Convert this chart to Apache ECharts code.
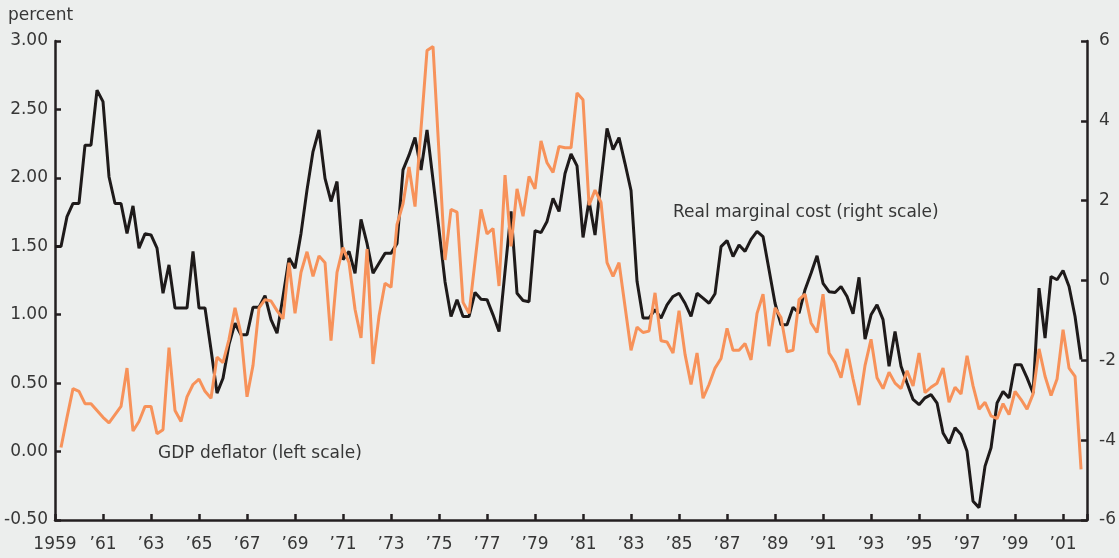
<!doctype html>
<html lang="en">
<head>
<meta charset="utf-8" />
<title>GDP deflator and real marginal cost</title>
<script src="https://cdn.jsdelivr.net/npm/echarts@6/dist/echarts.min.js"></script>
<style>
  html, body { margin: 0; padding: 0; background: #eceeed; }
  #chart { width: 1119px; height: 558px; }
</style>
</head>
<body>
<div id="chart"></div>
<script>
// quarterly, 1959Q1 .. 2001Q4 (172 quarters)
const startYear = 1959;
const endYear = 2002;

// Real marginal cost, right scale (percent)
const realMarginalCost = [
  0.85, 0.85, 1.6, 1.93, 1.93, 3.39, 3.39, 4.77, 4.48, 2.6,
  1.93, 1.93, 1.18, 1.87, 0.81, 1.17, 1.14, 0.81, -0.32, 0.39,
  -0.69, -0.69, -0.69, 0.73, -0.69, -0.69, -1.73, -2.82, -2.45, -1.6,
  -1.07, -1.36, -1.36, -0.67, -0.67, -0.38, -0.98, -1.32, -0.4, 0.56,
  0.31, 1.18, 2.27, 3.23, 3.77, 2.56, 1.98, 2.48, 0.52, 0.73,
  0.18, 1.53, 0.93, 0.18, 0.43, 0.68, 0.68, 0.93, 2.77, 3.14,
  3.58, 2.77, 3.77, 2.52, 1.27, -0.03, -0.9, -0.48, -0.9, -0.9,
  -0.3, -0.47, -0.48, -0.86, -1.28, 0.23, 1.73, -0.32, -0.5, -0.53,
  1.25, 1.2, 1.48, 2.06, 1.73, 2.68, 3.17, 2.87, 1.08, 2.0,
  1.14, 2.5, 3.81, 3.28, 3.58, 2.93, 2.25, -0.02, -0.94, -0.94,
  -0.73, -0.94, -0.61, -0.4, -0.32, -0.57, -0.9, -0.32, -0.44, -0.57,
  -0.33, 0.85, 1.0, 0.6, 0.89, 0.73, 1.03, 1.23, 1.1, 0.27,
  -0.57, -1.11, -1.11, -0.67, -0.82, -0.23, 0.18, 0.62, -0.07, -0.28,
  -0.3, -0.15, -0.4, -0.83, 0.08, -1.47, -0.86, -0.61, -0.98, -2.15,
  -1.28, -2.15, -2.57, -2.98, -3.11, -2.94, -2.86, -3.07, -3.82, -4.08,
  -3.69, -3.86, -4.28, -5.53, -5.69, -4.65, -4.19, -3.07, -2.78, -2.94,
  -2.11, -2.11, -2.44, -2.82, -0.19, -1.44, 0.1, 0.02, 0.25, -0.15,
  -0.9, -1.98
];

// GDP deflator, left scale (percent); no value for 1959Q1
const gdpDeflator = [
  null, 0.03, 0.25, 0.46, 0.44, 0.35, 0.35, 0.30, 0.25, 0.21,
  0.27, 0.33, 0.61, 0.15, 0.22, 0.33, 0.33, 0.13, 0.16, 0.76,
  0.30, 0.22, 0.40, 0.49, 0.53, 0.44, 0.39, 0.69, 0.65, 0.82,
  1.05, 0.86, 0.40, 0.63, 1.05, 1.11, 1.10, 1.03, 0.97, 1.38,
  1.01, 1.31, 1.46, 1.28, 1.43, 1.38, 0.81, 1.31, 1.49, 1.38,
  1.04, 0.83, 1.48, 0.64, 0.99, 1.23, 1.20, 1.66, 1.81, 2.08,
  1.79, 2.36, 2.93, 2.96, 2.18, 1.40, 1.77, 1.75, 1.09, 1.01,
  1.39, 1.77, 1.59, 1.63, 1.21, 2.02, 1.50, 1.92, 1.72, 2.01,
  1.92, 2.27, 2.11, 2.04, 2.23, 2.22, 2.22, 2.62, 2.57, 1.80,
  1.91, 1.82, 1.38, 1.28, 1.38, 1.06, 0.74, 0.91, 0.87, 0.88,
  1.16, 0.81, 0.80, 0.72, 1.03, 0.71, 0.49, 0.72, 0.39, 0.49,
  0.61, 0.68, 0.90, 0.74, 0.74, 0.79, 0.67, 1.01, 1.15, 0.77,
  1.05, 0.98, 0.73, 0.74, 1.11, 1.15, 0.94, 0.87, 1.15, 0.72,
  0.65, 0.54, 0.75, 0.53, 0.34, 0.63, 0.82, 0.54, 0.46, 0.58,
  0.50, 0.46, 0.59, 0.48, 0.72, 0.43, 0.47, 0.50, 0.61, 0.36,
  0.47, 0.42, 0.70, 0.48, 0.31, 0.36, 0.26, 0.24, 0.35, 0.27,
  0.44, 0.38, 0.31, 0.42, 0.75, 0.55, 0.41, 0.53, 0.89, 0.61,
  0.55, -0.13
];

const leftTicks = [-0.5, 0, 0.5, 1, 1.5, 2, 2.5, 3];
const rightTicks = [-6, -4, -2, 0, 2, 4, 6];

const ink = '#231f20';
const textColor = '#363636';
const font = 'DejaVu Sans';

// x is years since 1959, so the ticks start at 0
const toPairs = arr => arr.map((v, i) => [i / 4, v]);

const chart = echarts.init(document.getElementById('chart'));
chart.setOption({
  backgroundColor: '#eceeed',
  animation: false,
  grid: { left: 55, right: 31, top: 41, bottom: 38 },
  xAxis: {
    type: 'value',
    min: 0,
    max: endYear - startYear,
    interval: 2,
    axisLine: { show: true, onZero: false, lineStyle: { color: ink, width: 2.5 } },
    axisTick: { show: true, inside: true, length: 6, lineStyle: { color: ink, width: 2.5 } },
    splitLine: { show: false },
    axisLabel: {
      margin: 16,
      color: textColor,
      fontFamily: font,
      fontSize: 17,
      formatter: v => {
        if (v === 0) return String(startYear);
        if (v >= endYear - startYear) return '';
        return '\u2019' + String(startYear + v).slice(2);
      }
    }
  },
  yAxis: [
    {
      type: 'value',
      position: 'left',
      min: leftTicks[0],
      max: leftTicks[leftTicks.length - 1],
      interval: 0.5,
      axisLine: { show: true, lineStyle: { color: ink, width: 2.5 } },
      axisTick: { show: true, inside: true, length: 6, lineStyle: { color: ink, width: 2.5 } },
      splitLine: { show: false },
      axisLabel: {
        margin: 7,
        color: textColor,
        fontFamily: font,
        fontSize: 17,
        formatter: v => v.toFixed(2)
      }
    },
    {
      type: 'value',
      position: 'right',
      min: rightTicks[0],
      max: rightTicks[rightTicks.length - 1],
      interval: 2,
      axisLine: { show: true, lineStyle: { color: ink, width: 2.5 } },
      axisTick: { show: true, inside: true, length: 6, lineStyle: { color: ink, width: 2.5 } },
      splitLine: { show: false },
      axisLabel: {
        margin: 12,
        color: textColor,
        fontFamily: font,
        fontSize: 17
      }
    }
  ],
  series: [
    {
      name: 'Real marginal cost (right scale)',
      type: 'line',
      yAxisIndex: 1,
      data: toPairs(realMarginalCost),
      showSymbol: false,
      lineStyle: { color: '#1e1a1a', width: 3 },
      z: 2
    },
    {
      name: 'GDP deflator (left scale)',
      type: 'line',
      yAxisIndex: 0,
      data: toPairs(gdpDeflator),
      showSymbol: false,
      lineStyle: { color: '#f7925a', width: 3 },
      z: 3
    }
  ],
  graphic: [
    {
      type: 'text', left: 8, top: 7,
      style: { text: 'percent', fill: textColor, font: '17px "DejaVu Sans"' }
    },
    {
      type: 'text', left: 673, top: 204,
      style: { text: 'Real marginal cost (right scale)', fill: textColor, font: '17px "DejaVu Sans"' }
    },
    {
      type: 'text', left: 158, top: 445,
      style: { text: 'GDP deflator (left scale)', fill: textColor, font: '17px "DejaVu Sans"' }
    }
  ]
});
</script>
</body>
</html>
